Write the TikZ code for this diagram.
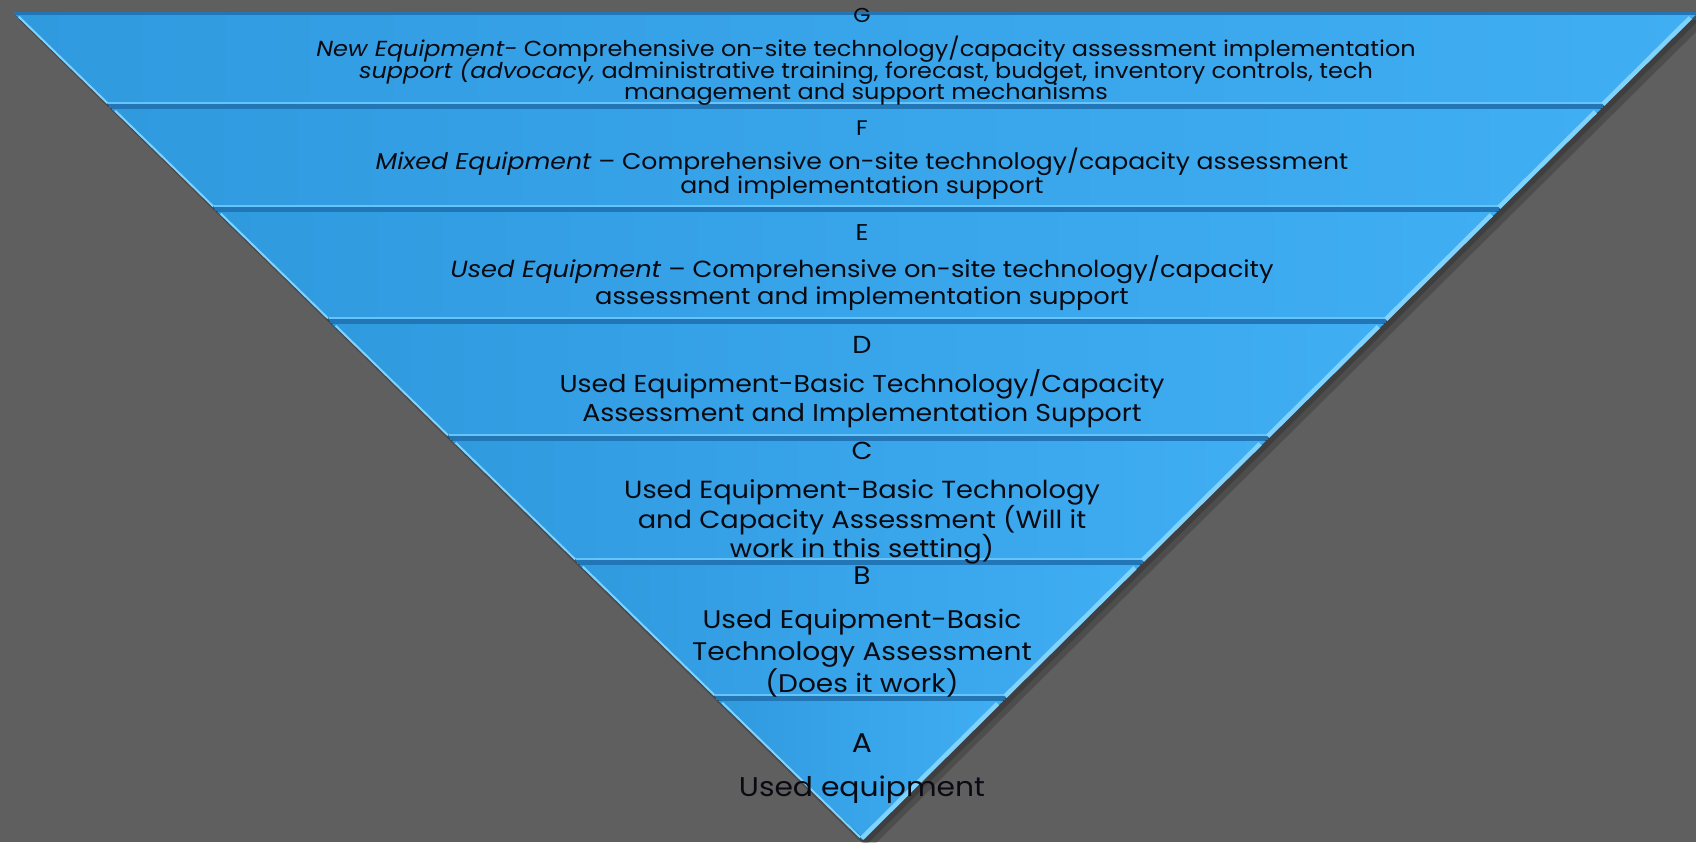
\documentclass[tikz,border=0pt]{standalone}
\usepackage{fontspec}
\setmainfont{Poppins}[FakeStretch=1.1]
\usetikzlibrary{calc}
\setlength{\lineskiplimit}{-20pt}
\definecolor{bg}{HTML}{5F5F5F}
\definecolor{bandL}{HTML}{309ADF}
\definecolor{bandR}{HTML}{40AEF3}
\definecolor{gapc}{HTML}{2276B6}
\definecolor{hilite}{HTML}{80D2FF}
\definecolor{txt}{HTML}{0A0A12}
\begin{document}
\begin{tikzpicture}[x=0.02cm,y=-0.02cm,
  band/.style={left color=bandL,right color=bandR},
  bevelL/.style={hilite,line width=0.04cm},
  bevelR/.style={hilite,line width=0.09cm},
  sep/.style={gapc,line width=0.07cm},
  lbl/.style={text=txt,align=center,inner sep=0pt}]
\useasboundingbox (0,0) rectangle (1696,842);
\fill[bg] (0,0) rectangle (1696,842);
% shadow
\fill[black,opacity=0.18] (19,20) -- (1708,20) -- (869,850) -- cycle;
\fill[black,opacity=0.18] (16,16) -- (1703,16) -- (866,845) -- cycle;
% base triangle (gap colour)
\fill[gapc] (13,12) -- (1698,12) -- (862,840) -- cycle;
% band corners
\coordinate (g1) at (13,12);    \coordinate (g2) at (1698,12);
\coordinate (f1) at (109.4,106); \coordinate (f2) at (1603.1,106);
\coordinate (e1) at (215.0,209); \coordinate (e2) at (1499.1,209);
\coordinate (d1) at (329.8,321); \coordinate (d2) at (1386.0,321);
\coordinate (c1) at (449.8,438); \coordinate (c2) at (1267.9,438);
\coordinate (b1) at (577.0,562); \coordinate (b2) at (1142.7,562);
\coordinate (a1) at (716.4,698); \coordinate (a2) at (1005.3,698);
\coordinate (ap) at (862,840);
% bands
\foreach \t/\u/\v/\w in {g1/g2/f2/f1, f1/f2/e2/e1, e1/e2/d2/d1, d1/d2/c2/c1, c1/c2/b2/b1, b1/b2/a2/a1}{
  \fill[band] ($(\t)+(2,3)$) -- ($(\u)+(-2,3)$) -- ($(\v)+(1,-3)$) -- ($(\w)+(-1,-3)$) -- cycle;
}
\fill[band] ($(a1)+(2,3)$) -- ($(a2)+(-2,3)$) -- ($(ap)+(0,-3)$) -- cycle;
% separators
\foreach \p/\q in {f1/f2,e1/e2,d1/d2,c1/c2,b1/b2,a1/a2}{
  \draw[sep] (\p) -- (\q);
  \draw[hilite!60!bandR,line width=0.03cm] ($(\p)+(-1,-3)$) -- ($(\q)+(1,-3)$);
}
% bevels on slanted edges
\foreach \p/\q in {g1/f1,f1/e1,e1/d1,d1/c1,c1/b1,b1/a1,a1/ap}{
  \draw[bevelL,shorten >=3pt,shorten <=3pt] ($(\p)+(2,1)$) -- ($(\q)+(2,1)$);
}
\foreach \p/\q in {g2/f2,f2/e2,e2/d2,d2/c2,c2/b2,b2/a2,a2/ap}{
  \draw[bevelR,shorten >=3pt,shorten <=3pt] ($(\p)+(-4,2)$) -- ($(\q)+(-4,2)$);
}
% texts
\node[lbl,font=\fontsize{11.5}{12}\selectfont] (gL) at (862,15) {G};
\node[lbl,font=\fontsize{12.4}{12.2}\selectfont] (gT) at (866,71)
  {\textit{New Equipment-} Comprehensive on-site technology/capacity assessment implementation\\
   \textit{support (advocacy,} administrative training, forecast, budget, inventory controls, tech\\
   management and support mechanisms};
\node[lbl,font=\fontsize{12}{13}\selectfont] (fL) at (862,128) {F};
\node[lbl,font=\fontsize{13}{13.6}\selectfont] (fT) at (862,174)
  {\textit{Mixed Equipment} -- Comprehensive on-site technology/capacity assessment\\
   and implementation support};
\node[lbl,font=\fontsize{13}{14}\selectfont] (eL) at (862,233) {E};
\node[lbl,font=\fontsize{13.3}{15.9}\selectfont] (eT) at (862,283)
  {\textit{Used Equipment} -- Comprehensive on-site technology/capacity\\
   assessment and implementation support};
\node[lbl,font=\fontsize{14}{16}\selectfont] (dL) at (862,345) {D};
\node[lbl,font=\fontsize{13.9}{16.4}\selectfont] (dT) at (862,399)
  {Used Equipment-Basic Technology/Capacity\\
   Assessment and Implementation Support};
\node[lbl,font=\fontsize{14}{16}\selectfont] (cL) at (862,451) {C};
\node[lbl,font=\fontsize{14.1}{16.6}\selectfont] (cT) at (862,522)
  {Used Equipment-Basic Technology\\
   and Capacity Assessment (Will it\\
   work in this setting)};
\node[lbl,font=\fontsize{14.5}{17}\selectfont] (bL) at (862,576) {B};
\node[lbl,font=\fontsize{14.5}{18.1}\selectfont] (bT) at (862,653)
  {Used Equipment-Basic\\
   Technology Assessment\\
   (Does it work)};
\node[lbl,font=\fontsize{15.4}{17}\selectfont] (aL) at (862,743) {A};
\node[lbl,font=\fontsize{15.4}{17}\selectfont] (aT) at (862,790) {Used equipment};
\end{tikzpicture}
\end{document}
